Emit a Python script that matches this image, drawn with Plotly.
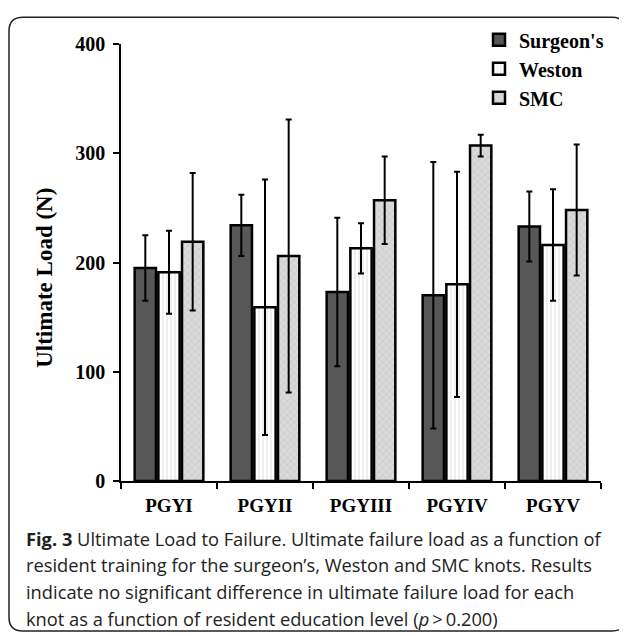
import plotly.graph_objects as go

# ---- data ----
categories = ["PGYI", "PGYII", "PGYIII", "PGYIV", "PGYV"]
surgeons = [195, 234, 173, 170, 233]
surgeons_err = [30, 28, 68, 122, 32]
weston = [191, 159, 213, 180, 216]
weston_err = [38, 117, 23, 103, 51]
smc = [219, 206, 257, 307, 248]
smc_err = [63, 125, 40, 10, 60]
y_ticks = [0, 100, 200, 300, 400]
caption_lines = [
    "<b>Fig. 3</b> Ultimate Load to Failure. Ultimate failure load as a function of",
    "resident training for the surgeon\u2019s, Weston and SMC knots. Results",
    "indicate no significant difference in ultimate failure load for each",
    "knot as a function of resident education level (<i>p</i>\u2009>\u20090.200)",
]

# ---- layout geometry (page pixels; the page body adds an 8px margin) ----
OFF = 8
W, H = 627 - OFF, 636 - OFF
PLOT_L, PLOT_T, PLOT_R, PLOT_B = 121, 38, 601, 481
ML, MT = PLOT_L - OFF, PLOT_T - OFF
PW, PH = PLOT_R - PLOT_L, PLOT_B - PLOT_T
MR, MB = W - ML - PW, H - MT - PH


def px_x(x):
    return (x - PLOT_L) / PW


def px_y(y):
    return 1 - (y - PLOT_T) / PH


SERIF = "Liberation Serif"
err_style = dict(type="data", thickness=2, width=3, color="black")
line_style = dict(color="black", width=2.5)

fig = go.Figure()
fig.add_trace(go.Bar(
    name="Surgeon's", x=categories, y=surgeons,
    error_y=dict(array=surgeons_err, **err_style),
    marker=dict(color="#575757", line=line_style),
))
fig.add_trace(go.Bar(
    name="Weston", x=categories, y=weston,
    error_y=dict(array=weston_err, **err_style),
    marker=dict(color="white", line=line_style,
                pattern=dict(shape="|", fgcolor="#c4c4c4", bgcolor="white", size=4, solidity=0.3)),
))
fig.add_trace(go.Bar(
    name="SMC", x=categories, y=smc,
    error_y=dict(array=smc_err, **err_style),
    marker=dict(color="#dadada", line=line_style,
                pattern=dict(shape="x", fgcolor="#a9a9a9", bgcolor="#dadada", size=5, solidity=0.2)),
))

# rounded frame around the whole figure
L, T, R, B, r = 9, 11, 626, 633, 14
rx, ry = r / PW, r / PH
path = (
    f"M {px_x(L)},{px_y(T) - ry} L {px_x(L)},{px_y(B) + ry} "
    f"Q {px_x(L)},{px_y(B)} {px_x(L) + rx},{px_y(B)} "
    f"L {px_x(R) - rx},{px_y(B)} Q {px_x(R)},{px_y(B)} {px_x(R)},{px_y(B) + ry} "
    f"L {px_x(R)},{px_y(T) - ry} Q {px_x(R)},{px_y(T)} {px_x(R) - rx},{px_y(T)} "
    f"L {px_x(L) + rx},{px_y(T)} Q {px_x(L)},{px_y(T)} {px_x(L)},{px_y(T) - ry} Z"
)

annotations = [
    dict(text="Ultimate Load (N)", textangle=-90, xref="paper", yref="paper",
         x=px_x(45), y=px_y(275), xanchor="center", yanchor="middle", showarrow=False,
         font=dict(family=SERIF, size=23, color="black", weight="bold")),
]
caption_y = [539, 566, 593, 620]
for txt, yy in zip(caption_lines, caption_y):
    annotations.append(dict(
        text=txt, xref="paper", yref="paper", x=px_x(24), y=px_y(yy),
        xanchor="left", yanchor="middle", showarrow=False, align="left",
        font=dict(family="Open Sans", size=18.3, color="#222222")))

fig.update_layout(
    width=W, height=H, autosize=False,
    margin=dict(l=ML, r=MR, t=MT, b=MB, pad=0),
    paper_bgcolor="white", plot_bgcolor="white",
    barmode="group", bargap=0.26, bargroupgap=0.1,
    font=dict(family=SERIF, color="black"),
    showlegend=True,
    legend=dict(x=px_x(479), y=px_y(14), xanchor="left", yanchor="top",
                bgcolor="rgba(0,0,0,0)", itemwidth=30,
                font=dict(family=SERIF, size=20, color="black", weight="bold")),
    xaxis=dict(type="category", showline=True, linecolor="black", linewidth=1.5,
               ticks="outside", tickson="boundaries", ticklen=6, tickwidth=1.5,
               tickcolor="black", showgrid=False, ticklabelstandoff=6,
               tickfont=dict(family=SERIF, size=19, color="black", weight="bold")),
    yaxis=dict(range=[0, 400], tickvals=y_ticks, showline=True, linecolor="black",
               linewidth=1.5, ticks="outside", ticklen=6, tickwidth=1.5,
               tickcolor="black", showgrid=False, zeroline=False, ticklabelstandoff=4,
               tickfont=dict(family=SERIF, size=20, color="black", weight="bold")),
    shapes=[dict(type="path", xref="paper", yref="paper", path=path,
                 line=dict(color="#222222", width=1.5), layer="above")],
    annotations=annotations,
)

fig.write_html("out.html")
